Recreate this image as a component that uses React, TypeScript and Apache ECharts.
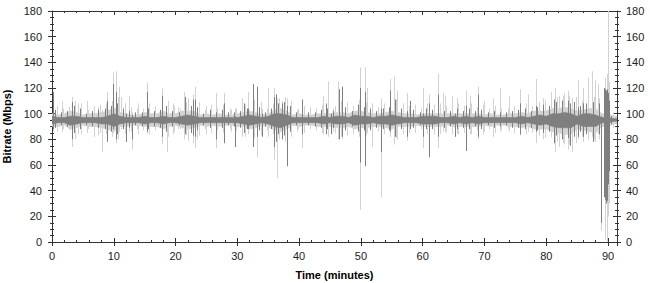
import React, { useEffect, useRef } from "react";
import * as echarts from "echarts";

// ---- data ----
const minutes = [0,1,2,3,4,5,6,7,8,9,10,11,12,13,14,15,16,17,18,19,20,21,22,23,24,25,26,27,28,29,30,31,32,33,34,35,36,37,38,39,40,41,42,43,44,45,46,47,48,49,50,51,52,53,54,55,56,57,58,59,60,61,62,63,64,65,66,67,68,69,70,71,72,73,74,75,76,77,78,79,80,81,82,83,84,85,86,87,88,89,90,91,91.5];

// dense core (dark) and halo (light) envelopes per minute
const darkHi = [98,97,97,98,98,97,97,97,97,98,100,98,97,97,97,98,97,97,98,97,97,98,99,98,97,97,97,97,97,97,97,98,99,98,97,98,100,100,99,97,97,97,97,97,98,97,98,98,97,99,98,98,97,98,98,99,98,97,97,97,98,98,98,97,97,98,97,98,97,98,97,97,97,97,97,97,98,97,98,99,98,100,100,101,100,98,100,100,99,97,97,96,96];
const darkLo = [92,93,93,91,92,93,93,93,92,92,90,92,93,93,93,92,93,93,92,93,93,92,91,92,93,93,93,93,93,93,93,92,91,92,93,92,90,89,91,93,93,93,93,93,92,93,92,92,93,91,92,92,93,92,92,91,92,93,93,93,92,92,92,93,93,92,93,92,93,92,93,93,93,93,93,93,92,93,92,91,92,90,89,89,89,92,90,90,90,93,93,94,94];
const lightHi = [100,99,100,102,101,99,100,100,101,102,105,101,100,99,99,101,100,100,102,100,100,102,102,102,99,100,99,100,99,99,100,101,102,101,99,100,103,104,102,99,100,99,99,100,100,100,101,101,100,102,102,101,100,100,101,102,101,100,100,99,100,100,100,100,100,100,100,100,100,100,99,100,99,99,100,100,101,100,102,102,102,104,104,105,104,102,103,104,104,100,100,98,98];
const lightLo = [90,90,91,88,89,91,90,90,89,88,86,90,90,91,91,90,90,90,88,90,91,89,88,89,91,90,91,90,91,91,90,90,88,89,91,90,87,86,88,91,90,91,91,90,90,90,89,89,90,88,89,89,90,90,89,88,90,90,90,91,90,90,90,90,91,90,90,90,90,90,91,90,91,91,90,90,89,90,88,88,88,86,85,84,84,88,87,86,85,90,90,92,92];

// short fluctuations between the big spikes: [minute, low, high]
const darkFine = [
  [0.5,89,103],[1.5,91,101],[2.5,90,102],[3.5,85,106],[4.5,88,104],[5.5,91,100],[6.5,90,102],[7.5,89,103],[8.5,88,104],[9.5,86,106],
  [10.5,84,108],[11.5,88,104],[12.5,89,102],[13.5,91,101],[14.5,90,101],[15.5,88,104],[16.5,90,102],[17.5,89,103],[18.5,86,106],[19.5,90,102],
  [20.5,91,101],[21.5,87,105],[22.5,85,106],[23.5,87,105],[24.5,91,100],[25.5,89,103],[26.5,90,101],[27.5,89,103],[28.5,91,101],[29.5,90,101],
  [30.5,89,102],[31.5,88,104],[32.5,85,107],[33.5,87,105],[34.5,90,101],[35.5,88,104],[36.5,84,108],[37.5,83,109],[38.5,86,106],[39.5,91,101],
  [40.5,89,102],[41.5,91,101],[42.5,90,101],[43.5,89,103],[44.5,88,104],[45.5,89,102],[46.5,86,106],[47.5,87,105],[48.5,90,102],[49.5,86,107],
  [50.5,87,105],[51.5,87,104],[52.5,89,102],[53.5,88,104],[54.5,87,105],[55.5,85,107],[56.5,88,104],[57.5,89,102],[58.5,89,103],[59.5,91,101],
  [60.5,88,104],[61.5,88,103],[62.5,88,104],[63.5,89,102],[64.5,90,102],[65.5,88,104],[66.5,89,102],[67.5,88,104],[68.5,90,102],[69.5,88,103],
  [70.5,91,101],[71.5,89,102],[72.5,90,101],[73.5,91,101],[74.5,89,102],[75.5,89,103],[76.5,88,104],[77.5,89,102],[78.5,87,105],[79.5,85,107],
  [80.5,86,106],[81.5,83,109],[82.5,82,110],[83.5,81,110],[84.5,82,109],[85.5,86,106],[86.5,84,108],[87.5,84,109],[88.5,84,108],[90.5,92,98]
];
const lightFine = [
  [0.75,86,106],[1.75,88,104],[2.75,87,105],[3.75,80,110],[4.75,84,108],[5.75,88,103],[6.75,86,106],[7.75,85,107],[8.75,84,108],[9.75,82,110],
  [10.75,80,113],[11.75,84,108],[12.75,86,105],[13.75,88,104],[14.75,87,104],[15.75,84,108],[16.75,87,105],[17.75,85,107],[18.75,82,110],[19.75,86,106],
  [20.75,88,104],[21.75,83,109],[22.75,81,110],[23.75,83,109],[24.75,88,103],[25.75,85,107],[26.75,87,104],[27.75,85,107],[28.75,88,104],[29.75,87,104],
  [30.75,85,106],[31.75,84,108],[32.75,81,111],[33.75,83,109],[34.75,87,104],[35.75,84,108],[36.75,80,112],[37.75,79,113],[38.75,82,110],[39.75,88,104],
  [40.75,85,106],[41.75,88,104],[42.75,87,104],[43.75,85,107],[44.75,84,108],[45.75,85,106],[46.75,82,110],[47.75,83,109],[48.75,87,105],[49.75,82,111],
  [50.75,83,109],[51.75,83,108],[52.75,86,105],[53.75,84,108],[54.75,83,109],[55.75,81,111],[56.75,84,108],[57.75,85,106],[58.75,85,107],[59.75,88,104],
  [60.75,84,108],[61.75,84,107],[62.75,84,108],[63.75,85,106],[64.75,87,105],[65.75,84,108],[66.75,85,106],[67.75,84,108],[68.75,87,105],[69.75,84,107],
  [70.75,88,104],[71.75,85,106],[72.75,87,104],[73.75,88,104],[74.75,85,106],[75.75,85,107],[76.75,84,108],[77.75,85,106],[78.75,83,109],[79.75,81,111],
  [80.75,82,110],[81.75,78,113],[82.75,77,114],[83.75,76,114],[84.75,77,113],[85.75,82,110],[86.75,80,112],[87.75,80,113],[88.6,80,112],[90.75,89,101]
];

// larger individual spikes: [minute, low, high]
const lightSpikes = [
  [0.1,86,112],[1.6,86,110],[3.3,74,113],[4.2,84,108],[5.6,85,110],[6.8,82,106],[7.5,83,105],
  [8.1,70,103],[8.9,78,117],[9.9,85,132],[10.4,77,133],[10.9,86,121],[11.2,88,113],[12.4,86,114],
  [12.9,72,101],[14.0,84,108],[15.4,84,124],[16.6,88,106],[17.8,76,120],[18.6,70,100],[18.8,87,109],
  [19.6,84,108],[20.4,88,105],[21.3,80,117],[22.0,79,112],[22.9,77,115],[23.1,73,121],[23.5,80,104],
  [24.9,84,106],[26.5,73,116],[27.8,80,116],[29.0,86,103],[29.6,76,104],[30.8,82,112],[31.3,82,107],
  [31.8,86,117],[32.5,80,123],[33.2,66,108],[34.0,85,104],[35.0,82,120],[35.9,64,120],[36.4,50,112],
  [37.2,80,110],[37.7,78,108],[38.1,76,112],[39.7,86,103],[40.5,73,111],[41.8,88,105],[43.8,84,114],
  [44.6,82,125],[45.5,86,104],[46.3,80,125],[47.0,80,120],[47.8,86,103],[48.8,84,106],[49.9,25,136],
  [50.7,78,136],[51.0,85,120],[51.8,74,106],[53.2,35,112],[54.7,82,127],[55.3,76,129],[55.9,80,118],
  [57.5,79,116],[60.1,73,120],[61.0,67,115],[62.4,73,131],[63.3,86,116],[63.6,86,114],[64.8,84,114],
  [65.6,84,112],[67.0,80,118],[67.7,84,114],[69.0,80,121],[70.0,86,110],[71.3,82,112],[72.5,86,120],
  [73.9,86,114],[75.8,83,119],[77.0,86,115],[78.3,77,127],[79.5,80,112],[80.7,82,117],[81.4,70,120],
  [82.0,74,114],[82.8,76,116],[83.5,72,118],[84.2,70,112],[85.1,80,126],[85.9,78,120],[86.7,80,128],
  [87.4,82,133],[87.9,78,126],[88.3,84,123],[88.8,9,100],[89.5,2,128],[89.8,0,131],[90.0,20,180],[90.2,30,125]
];
const darkSpikes = [
  [0.1,88,117],[3.3,80,109],[8.9,78,110],[9.9,88,123],[10.4,80,117],[12.0,78,100],[12.9,80,99],
  [15.4,86,117],[17.8,82,114],[21.5,84,113],[22.9,83,111],[23.1,82,111],[26.6,80,100],[27.8,77,108],
  [29.6,74,98],[31.0,85,108],[31.8,88,104],[32.5,74,123],[33.2,82,121],[34.0,82,100],[35.9,74,113],
  [36.3,78,115],[37.3,80,108],[38.1,59,106],[40.5,84,111],[44.3,84,108],[45.1,84,100],[46.5,80,119],
  [47.0,82,121],[49.9,62,120],[50.7,59,117],[53.2,70,104],[54.7,86,118],[55.5,82,111],[57.5,82,100],
  [58.0,88,110],[60.1,82,100],[61.0,66,108],[62.4,82,115],[65.3,82,100],[67.0,71,106],[69.0,82,115],
  [75.8,84,108],[78.3,86,106],[81.3,77,111],[82.5,80,110],[83.8,75,108],[85.1,82,105],[86.0,82,108],
  [87.5,78,108],[88.8,15,98],[89.3,40,118],[89.4,35,120],[89.5,33,119],[89.6,38,118],[89.7,30,117],
  [89.8,32,119],[89.9,36,118],[90.0,45,116],[90.1,55,110]
];

const X_MAX = 91.45;
const Y_MAX = 180;

const FONT = "'Liberation Sans', Arial, Helvetica, sans-serif";
const AXIS_COLOR = "#333";
const DARK = "#7f7f7f";
const LIGHT = "#d2d2d2";

function spikeSeries(data: number[][], color: string) {
  return {
    type: "custom",
    silent: true,
    clip: true,
    xAxisIndex: 0,
    yAxisIndex: 0,
    data,
    encode: { x: 0, y: [1, 2] },
    renderItem: (params: any, api: any) => {
      const t = api.value(0);
      const p1 = api.coord([t, api.value(1)]);
      const p2 = api.coord([t, api.value(2)]);
      const x = Math.round(p1[0]) + 0.5;
      return {
        type: "line",
        shape: { x1: x, y1: p1[1], x2: x, y2: p2[1] },
        style: { stroke: color, lineWidth: 1 },
      };
    },
  };
}

// band between lo and hi, drawn as one polygon through the axis scales
function bandSeries(lo: number[], hi: number[], color: string) {
  return {
    type: "custom",
    silent: true,
    clip: true,
    xAxisIndex: 0,
    yAxisIndex: 0,
    data: minutes.map((t, i) => [t, lo[i], hi[i]]),
    encode: { x: 0, y: [1, 2] },
    renderItem: (params: any, api: any) => {
      if (params.dataIndexInside !== 0) return null;
      const n = params.dataInsideLength;
      const top: number[][] = [];
      const bottom: number[][] = [];
      for (let j = 0; j < n; j++) {
        const t = api.value(0, j);
        top.push(api.coord([t, api.value(2, j)]));
        bottom.push(api.coord([t, api.value(1, j)]));
      }
      const points = top.concat(bottom.reverse());
      return {
        type: "polygon",
        shape: { points },
        style: { fill: color, stroke: color, lineWidth: 0.6 },
      };
    },
  };
}

function xAx(extra: any) {
  return {
    type: "value",
    min: 0,
    max: X_MAX,
    interval: 10,
    axisLine: { show: true, onZero: false, lineStyle: { color: AXIS_COLOR, width: 1 } },
    axisLabel: { show: false },
    splitLine: { show: false },
    axisTick: { show: true, inside: true, length: 4, lineStyle: { color: AXIS_COLOR } },
    ...extra,
  };
}

function yAx(extra: any) {
  return {
    type: "value",
    min: 0,
    max: Y_MAX,
    interval: 20,
    axisLine: { show: true, onZero: false, lineStyle: { color: AXIS_COLOR, width: 1 } },
    axisLabel: { show: false },
    splitLine: { show: false },
    axisTick: { show: true, inside: true, length: 4, lineStyle: { color: AXIS_COLOR } },
    minorTick: { show: true, splitNumber: 4, length: 2, lineStyle: { color: AXIS_COLOR } },
    ...extra,
  };
}

const labelStyle = { show: true, fontSize: 11, color: "#222", fontFamily: FONT };

export default function App() {
  const ref = useRef<HTMLDivElement>(null);
  useEffect(() => {
    if (!ref.current) return;
    const chart = echarts.init(ref.current, undefined, { renderer: "svg" });
    chart.setOption({
      animation: false,
      backgroundColor: "#fff",
      grid: { left: 52, right: 33, top: 11, bottom: 41, containLabel: false, outerBoundsMode: "none" },
      xAxis: [
        xAx({
          position: "bottom",
          axisLabel: { ...labelStyle, margin: 8, showMaxLabel: false },
          name: "Time (minutes)",
          nameLocation: "middle",
          nameGap: 27,
          nameTextStyle: { fontSize: 11, fontWeight: "bold", color: "#000", fontFamily: FONT },
        }),
        xAx({ position: "top" }),
        xAx({ position: "bottom", axisLine: { show: false, onZero: false }, axisTick: { show: true, inside: false, length: 4, lineStyle: { color: AXIS_COLOR } } }),
        xAx({ position: "bottom", interval: 2, axisLine: { show: false, onZero: false }, axisTick: { show: true, inside: true, length: 2, lineStyle: { color: AXIS_COLOR } } }),
        xAx({ position: "top", interval: 2, axisLine: { show: false, onZero: false }, axisTick: { show: true, inside: true, length: 2, lineStyle: { color: AXIS_COLOR } } }),
      ],
      yAxis: [
        yAx({
          position: "left",
          axisLabel: { ...labelStyle, margin: 10 },
          name: "Bitrate (Mbps)",
          nameLocation: "middle",
          nameGap: 36,
          nameTextStyle: { fontSize: 11, fontWeight: "bold", color: "#000", fontFamily: FONT },
        }),
        yAx({ position: "right", axisLabel: { ...labelStyle, margin: 9 } }),
        yAx({ position: "left", axisLine: { show: false, onZero: false }, axisTick: { show: true, inside: false, length: 4, lineStyle: { color: AXIS_COLOR } } }),
        yAx({ position: "right", axisLine: { show: false, onZero: false }, axisTick: { show: true, inside: false, length: 4, lineStyle: { color: AXIS_COLOR } } }),
      ],
      series: [
        bandSeries(lightLo, lightHi, LIGHT),
        spikeSeries(lightFine, LIGHT),
        spikeSeries(lightSpikes, LIGHT),
        bandSeries(darkLo, darkHi, DARK),
        spikeSeries(darkFine, DARK),
        spikeSeries(darkSpikes, DARK),
      ],
    });
    return () => chart.dispose();
  }, []);
  return (
    <div
      ref={ref}
      style={{ position: "fixed", left: 0, top: 0, width: 650, height: 283, background: "#fff" }}
    />
  );
}
